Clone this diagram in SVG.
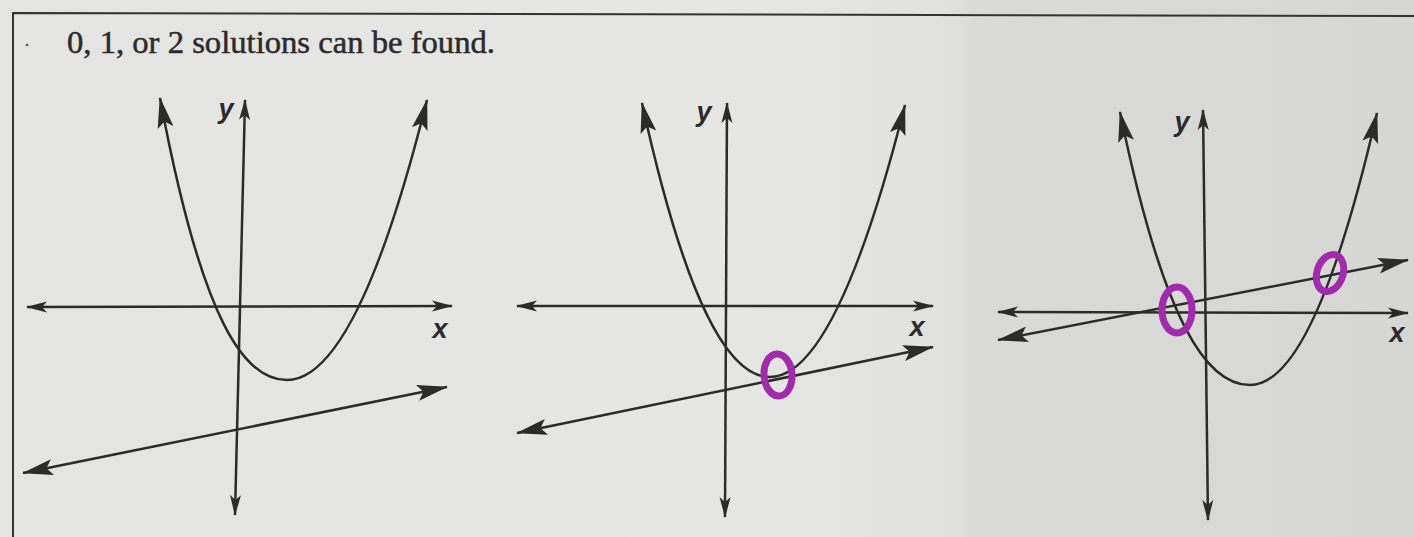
<svg xmlns="http://www.w3.org/2000/svg" width="1414" height="537" viewBox="0 0 1414 537">
  <style>
    .ink { fill: none; stroke: #2b2b2b; stroke-width: 2.5; }
    .curve { marker-start: url(#big); marker-end: url(#big); }
    .axis { marker-start: url(#small); marker-end: url(#small); }
    .lbl { font-family: "Liberation Sans", Arial, sans-serif; font-style: italic; font-weight: bold; font-size: 27px; fill: #2b2b2b; text-anchor: middle; }
    .title { font-family: "Liberation Serif", "Times New Roman", serif; font-size: 32px; fill: #2b2b2b; stroke: #2b2b2b; stroke-width: 0.5; }
    .mark { fill: none; stroke: #a02cac; stroke-width: 7; }
  </style>
  <defs>
    <linearGradient id="bg" x1="0" y1="0" x2="1" y2="0">
      <stop offset="0" stop-color="#e4e4e2"/>
      <stop offset="0.5" stop-color="#e6e6e4"/>
      <stop offset="0.67" stop-color="#e1e1df"/>
      <stop offset="0.69" stop-color="#dadad8"/>
      <stop offset="1" stop-color="#d6d6d4"/>
    </linearGradient>
    <marker id="big" markerUnits="userSpaceOnUse" markerWidth="34" markerHeight="20" viewBox="-32 -10 34 20" refX="0" refY="0" orient="auto-start-reverse">
      <path d="M1,0 L-30,-8 L-24,0 L-30,8 Z" fill="#2b2b2b"/>
    </marker>
    <marker id="small" markerUnits="userSpaceOnUse" markerWidth="24" markerHeight="12" viewBox="-22 -6 24 12" refX="0" refY="0" orient="auto-start-reverse">
      <path d="M1,0 L-20,-5.5 L-15,0 L-20,5.5 Z" fill="#2b2b2b"/>
    </marker>
  </defs>

  <rect x="0" y="0" width="1414" height="537" fill="url(#bg)"/>

  <g id="frame">
    <path d="M13,537 L13,13 L1414,16" fill="none" stroke="#333" stroke-width="2"/>
  </g>

  <g id="title">
    <circle cx="27" cy="45" r="1.3" fill="#555"/>
    <text class="title" x="67" y="53" textLength="428" lengthAdjust="spacingAndGlyphs">0, 1, or 2 solutions can be found.</text>
  </g>

  <g id="connectors">
    <!-- graph 1 -->
    <path class="ink axis" d="M27,307 L452,306"/>
    <path class="ink axis" d="M245,100 L235,515"/>
    <path class="ink curve" d="M160,98 C202.3,323.6 244.7,380 287,380 C333.7,380 380.3,286.7 427,100"/>
    <path class="ink curve" d="M23,473 L447,387"/>
    <!-- graph 2 -->
    <path class="ink axis" d="M517,306 L933,306"/>
    <path class="ink axis" d="M727,103 L725,517"/>
    <path class="ink curve" d="M642,103 C684.7,297.5 727.3,377 770,377 C815,377 860,282.7 905,105"/>
    <path class="ink curve" d="M517,433 L933,347"/>
    <!-- graph 3 -->
    <path class="ink axis" d="M998,312 L1408,313"/>
    <path class="ink axis" d="M1203,110 L1208,520"/>
    <path class="ink curve" d="M1120,112 C1163.3,322.2 1206.7,385 1250,385 C1292.3,385 1334.7,297.1 1377,113"/>
    <path class="ink curve" d="M998,340 L1408,260"/>
  </g>

  <g id="graph-0-solutions">
    <text class="lbl" x="226" y="118">y</text>
    <text class="lbl" x="440" y="338">x</text>
  </g>
  <g id="graph-1-solution">
    <text class="lbl" x="704" y="121">y</text>
    <text class="lbl" x="917" y="336">x</text>
    <ellipse class="mark" cx="778" cy="375" rx="14" ry="21" transform="rotate(-4 778 375)"/>
  </g>
  <g id="graph-2-solutions">
    <text class="lbl" x="1182" y="131">y</text>
    <text class="lbl" x="1397" y="342">x</text>
    <ellipse class="mark" cx="1177" cy="310" rx="15" ry="23"/>
    <ellipse class="mark" cx="1330" cy="273" rx="13" ry="19" transform="rotate(18 1330 273)"/>
  </g>
</svg>
